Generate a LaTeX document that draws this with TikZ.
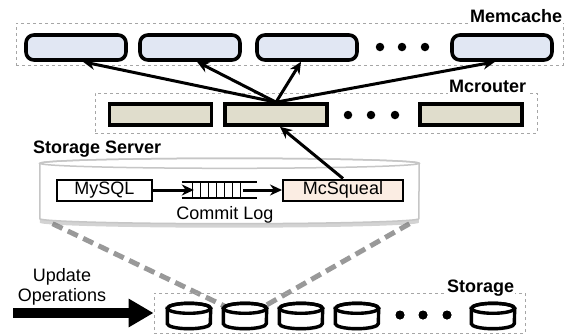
\documentclass[tikz,border=0pt]{standalone}
\usepackage{fontspec}
\setmainfont{Liberation Sans}
\usetikzlibrary{positioning,arrows.meta,shadows,backgrounds}
\definecolor{memblue}{RGB}{225,231,243}
\definecolor{mcrtan}{RGB}{224,221,204}
\definecolor{sqpink}{RGB}{251,237,227}
% node, x radius, y radius, line style, body style
\newcommand{\drumdraw}[5]{%
  \path[#4,#5] ([yshift=-#3]#1.north west) -- ([yshift=#3]#1.south west)
    arc[start angle=180,end angle=360,x radius=#2,y radius=#3]
    -- ([yshift=-#3]#1.north east)
    arc[start angle=0,end angle=180,x radius=#2,y radius=#3] -- cycle;
  \draw[#4] ([yshift=-#3]#1.north) ellipse[x radius=#2,y radius=#3];}

\begin{document}
\begin{tikzpicture}
[x=1pt,y=-1pt,
 font=\fontsize{18}{20}\selectfont,
 group/.style={draw=gray!70,dashed,line width=0.9pt,inner sep=0pt},
 lbl/.style={font=\fontsize{18}{20}\selectfont\bfseries,fill=white,inner sep=1pt},
 memc/.style={draw,line width=3.6pt,rounded corners=8pt,fill=memblue,minimum width=100pt,minimum height=25pt},
 mcr/.style={draw,line width=3.6pt,fill=mcrtan,minimum width=102pt,minimum height=21pt},
 disk/.style={minimum width=43pt,minimum height=25pt,inner sep=0pt},
 diskline/.style={draw,line width=3.4pt},
 sbox/.style={draw,line width=2pt,minimum height=21pt,inner sep=0pt},
 arr/.style={line width=3pt,-{Stealth[length=12pt,width=11pt]}},
 link/.style={draw=gray!80,line width=5pt,dash pattern=on 11pt off 6pt},
 moredot/.style={circle,fill,inner sep=0pt,minimum size=8.5pt}]
\useasboundingbox (0,0) rectangle (566,335);

% groups
\node[group,minimum width=547pt,minimum height=42pt] (grpmem) at (289.5,44) {};
\node[group,minimum width=442pt,minimum height=40pt] (grpmcr) at (316,113) {};
\node[group,minimum width=371pt,minimum height=40pt] (grpsto) at (339.5,313) {};
\node[lbl,anchor=base east] (lblmem) at (grpmem.north east) {Memcache};
\node[lbl,anchor=base east] (lblmcr) at ([xshift=-10pt]grpmcr.north east) {Mcrouter};
\node[lbl,anchor=base east] (lblsto) at ([xshift=-10pt]grpsto.north east) {Storage};

% memcache
\node[memc] (m1) at (76,47.5) {};
\node[memc] (m2) at (190,47.5) {};
\node[memc] (m3) at (307,47.5) {};
\node[memc] (m4) at (502,47.5) {};
\foreach \x in {380,402,425} \node[moredot] (md\x) at (\x,47) {};

% mcrouter
\node[mcr] (r1) at (160.5,114.5) {};
\node[mcr] (r2) at (276,114.5) {};
\node[mcr] (r3) at (471,114.5) {};
\foreach \x in {348,371,395} \node[moredot] (rd\x) at (\x,115) {};

% storage server
\node[lbl,fill=none,anchor=base west] (lblsrv) at (32,153) {Storage Server};
\node[minimum width=379pt,minimum height=65pt,inner sep=0pt] (srv) at (229.5,191) {};
\drumdraw{srv}{189.5pt}{5pt}{draw=gray!45,line width=1.5pt}
  {fill=white,drop shadow={opacity=0.35,shadow xshift=0pt,shadow yshift=-4pt}}
\node[sbox,minimum width=95pt] (mysql) at (104.5,190) {MySQL};
\node[sbox,fill=sqpink,minimum width=120pt] (mcsq) at (343,190) {McSqueal};
\node[minimum width=75pt,minimum height=16pt,inner sep=0pt] (q) at (219.5,190) {};
\draw[line width=1.8pt] (q.north west) -- (q.north east) (q.south west) -- (q.south east);
\foreach \x in {11,19,...,59}
  \draw[line width=1.1pt] ([xshift=\x pt]q.north west) -- ([xshift=\x pt]q.south west);
\node[anchor=base] (clog) at (225,219) {Commit Log};
\draw[arr] (mysql) -- ([xshift=12pt]q.west);
\draw[arr] ([xshift=-14pt]q.east) -- (mcsq);

% storage
\node[disk] (d1) at (189,316) {};
\node[disk] (d2) at (245,316) {};
\node[disk] (d3) at (301,316) {};
\node[disk] (d4) at (357,316) {};
\node[disk] (d5) at (493,316) {};
\foreach \n in {d1,d2,d3,d4,d5}
  \drumdraw{\n}{21.5pt}{5pt}{diskline}
    {fill=white,drop shadow={opacity=0.25,shadow xshift=1pt,shadow yshift=-2pt}}
\foreach \x in {400,423,447} \node[moredot] (sd\x) at (\x,315) {};
\begin{scope}[on background layer]
\path[link] ([xshift=-177pt]srv.south) -- ([xshift=-20pt,yshift=-3pt]d2.north);
\path[link] ([xshift=180pt]srv.south) -- ([xshift=21pt,yshift=-2pt]d2.north);
\end{scope}

\node[align=center] (updtxt) at (62,287) {Update\\Operations};
\coordinate (upd) at (13,313);
\draw[line width=10pt,-{Triangle[length=25pt,width=27pt]}] (upd) -- (grpsto.west);

% arrows
\foreach \t/\s in {m1/7,m2/7,m3/-6,m4/-7}
  \draw[arr] (r2.north) -- ([xshift=\s pt]\t.south);
\draw[arr] (mcsq.north) -- ([xshift=4pt]r2.south);
\end{tikzpicture}
\end{document}
